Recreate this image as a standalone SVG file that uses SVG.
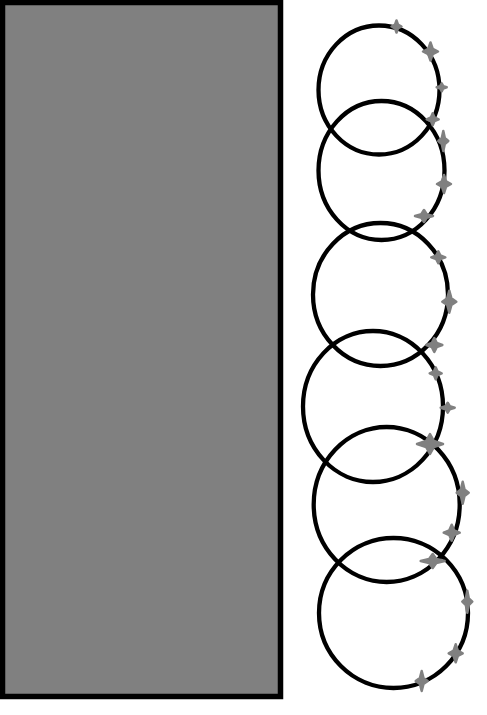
<svg xmlns="http://www.w3.org/2000/svg" width="487" height="715" viewBox="0 0 487 715">
<style>
.ring{fill:none;stroke:#000;stroke-width:4.3}
.st use{fill:#808080;stroke:#808080;stroke-width:2.5;stroke-linejoin:round;vector-effect:non-scaling-stroke}
</style>
<defs>
<path id="star" d="M0,-1 L0.3,-0.3 L1,0 L0.3,0.3 L0,1 L-0.3,0.3 L-1,0 L-0.3,-0.3 Z" vector-effect="non-scaling-stroke"/>
</defs>
<rect width="487" height="715" fill="#fff"/>
<g id="block">
<rect x="2.5" y="2.5" width="278" height="694" fill="#808080" stroke="#000" stroke-width="5.5"/>
</g>
<g id="rings">
<ellipse id="ring1" class="ring" cx="379" cy="90" rx="60.5" ry="64.5"/>
<ellipse id="ring2" class="ring" cx="381.5" cy="170.5" rx="63" ry="69.5"/>
<ellipse id="ring3" class="ring" cx="380.5" cy="294.5" rx="67.5" ry="71.5"/>
<ellipse id="ring4" class="ring" cx="373" cy="406.5" rx="70" ry="75.5"/>
<ellipse id="ring5" class="ring" cx="386.7" cy="504.5" rx="73" ry="77.5"/>
<ellipse id="ring6" class="ring" cx="393.5" cy="613" rx="74.5" ry="75"/>
</g>
<g id="stars" class="st">
<use href="#star" transform="translate(396.5,26.5) scale(5,6)"/>
<use href="#star" transform="translate(430.5,51.5) scale(7.5,9)"/>
<use href="#star" transform="translate(441.7,87.3) scale(5,4)"/>
<use href="#star" transform="translate(432.7,119.3) scale(6,6)"/>
<use href="#star" transform="translate(443.3,141) scale(5,10)"/>
<use href="#star" transform="translate(444,184) scale(7,9)"/>
<use href="#star" transform="translate(424,216) scale(9,6)"/>
<use href="#star" transform="translate(438.3,257.3) scale(7,6)"/>
<use href="#star" transform="translate(449.3,301.7) scale(7,11)"/>
<use href="#star" transform="translate(434.3,345) scale(8,7)"/>
<use href="#star" transform="translate(435.7,373.3) scale(6,6)"/>
<use href="#star" transform="translate(447.7,407.7) scale(7,5)"/>
<use href="#star" transform="translate(430,444) scale(13,10)"/>
<use href="#star" transform="translate(462.7,492.7) scale(6,11)"/>
<use href="#star" transform="translate(451.7,532.7) scale(8,8)"/>
<use href="#star" transform="translate(432.7,561) scale(12,7)"/>
<use href="#star" transform="translate(467.3,601.7) scale(5,11)"/>
<use href="#star" transform="translate(455.7,653.3) scale(7,9)"/>
<use href="#star" transform="translate(421.7,681) scale(6,10)"/>
</g>
</svg>
